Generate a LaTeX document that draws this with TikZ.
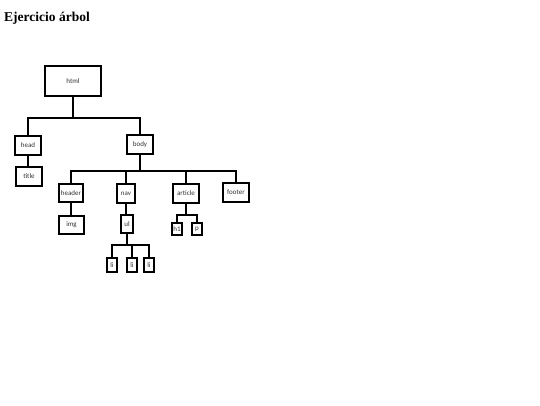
\documentclass[tikz,border=0pt]{standalone}
\usepackage{fontspec}
\setmainfont{Liberation Serif}
\newfontfamily\boxfont{Carlito}
\begin{document}
\begin{tikzpicture}[
    x=1pt, y=-1pt,
    tag/.style={rectangle, draw, line width=1.7pt, inner sep=0pt, text=black!80, font=\boxfont\fontsize{7}{8}\selectfont},
    small/.style={tag, minimum width=10pt, minimum height=13pt},
    edge/.style={line width=1.8pt}
]
    \useasboundingbox (0,0) rectangle (540,405);

    % Title
    \node[anchor=base west, inner sep=0pt, font=\bfseries\fontsize{13.5}{15}\selectfont] (titulo) at (4,21) {Ejercicio árbol};

    % Level 0: html
    \node[tag, minimum width=56pt, minimum height=30pt] (html) at (73, 81) {html};

    % Level 1: head and body
    \node[tag, minimum width=26pt, minimum height=19pt] (head) at (28, 145.5) {head};
    \node[tag, minimum width=26pt, minimum height=19pt] (body) at (140, 144.5) {body};

    % Level 2
    \node[tag, minimum width=26pt, minimum height=19pt] (title) at (29, 176.5) {title};
    \node[tag, minimum width=24pt, minimum height=18pt] (header) at (71, 193) {header};
    \node[tag, minimum width=18pt, minimum height=19pt] (nav) at (126, 193.5) {nav};
    \node[tag, minimum width=26pt, minimum height=19pt] (article) at (186, 193.5) {article};
    \node[tag, minimum width=26pt, minimum height=19pt] (footer) at (236, 192.5) {footer};

    % Level 3
    \node[tag, minimum width=25pt, minimum height=18pt] (img) at (71.5, 225) {img};
    \node[tag, minimum width=12pt, minimum height=18pt] (ul) at (127, 224) {ul};
    \node[small, minimum height=12pt] (h1) at (177, 229) {h1};
    \node[small, minimum height=12pt] (p) at (197, 229) {p};

    % Level 4: list items
    \node[small, minimum height=14pt] (li1) at (112, 265) {li};
    \node[small, minimum height=14pt] (li2) at (132, 265) {li};
    \node[small, minimum height=14pt] (li3) at (149, 265) {li};

    % Edges (html to head, body)
    \draw[edge] (html.south) -- ++(0,21) coordinate (b0);
    \draw[edge] (head.north) |- (b0) -| (body.north);
    \draw[edge] (head.south) -- (head.south|-title.north);

    % Edges (body to its children)
    \draw[edge] (body.south) -- ++(0,16) coordinate (b1);
    \draw[edge] (header.north) |- (b1) -| (footer.north);
    \draw[edge] (nav.north) -- (nav.north|-b1);
    \draw[edge] (article.north) -- (article.north|-b1);

    % Edges (level 2 to level 3)
    \draw[edge] (header.south) -- (header.south|-img.north);
    \draw[edge] (nav.south) -- (ul.north-|nav.south);
    \draw[edge] (article.south) -- ++(0,11) coordinate (b2);
    \draw[edge] (h1.north) |- (b2) -| (p.north);

    % Edges (ul to li)
    \draw[edge] (ul.south) -- ++(0,11) coordinate (b3);
    \draw[edge] (li1.north) |- (b3) -| (li3.north);
    \draw[edge] (li2.north) -- (li2.north|-b3);

\end{tikzpicture}
\end{document}
